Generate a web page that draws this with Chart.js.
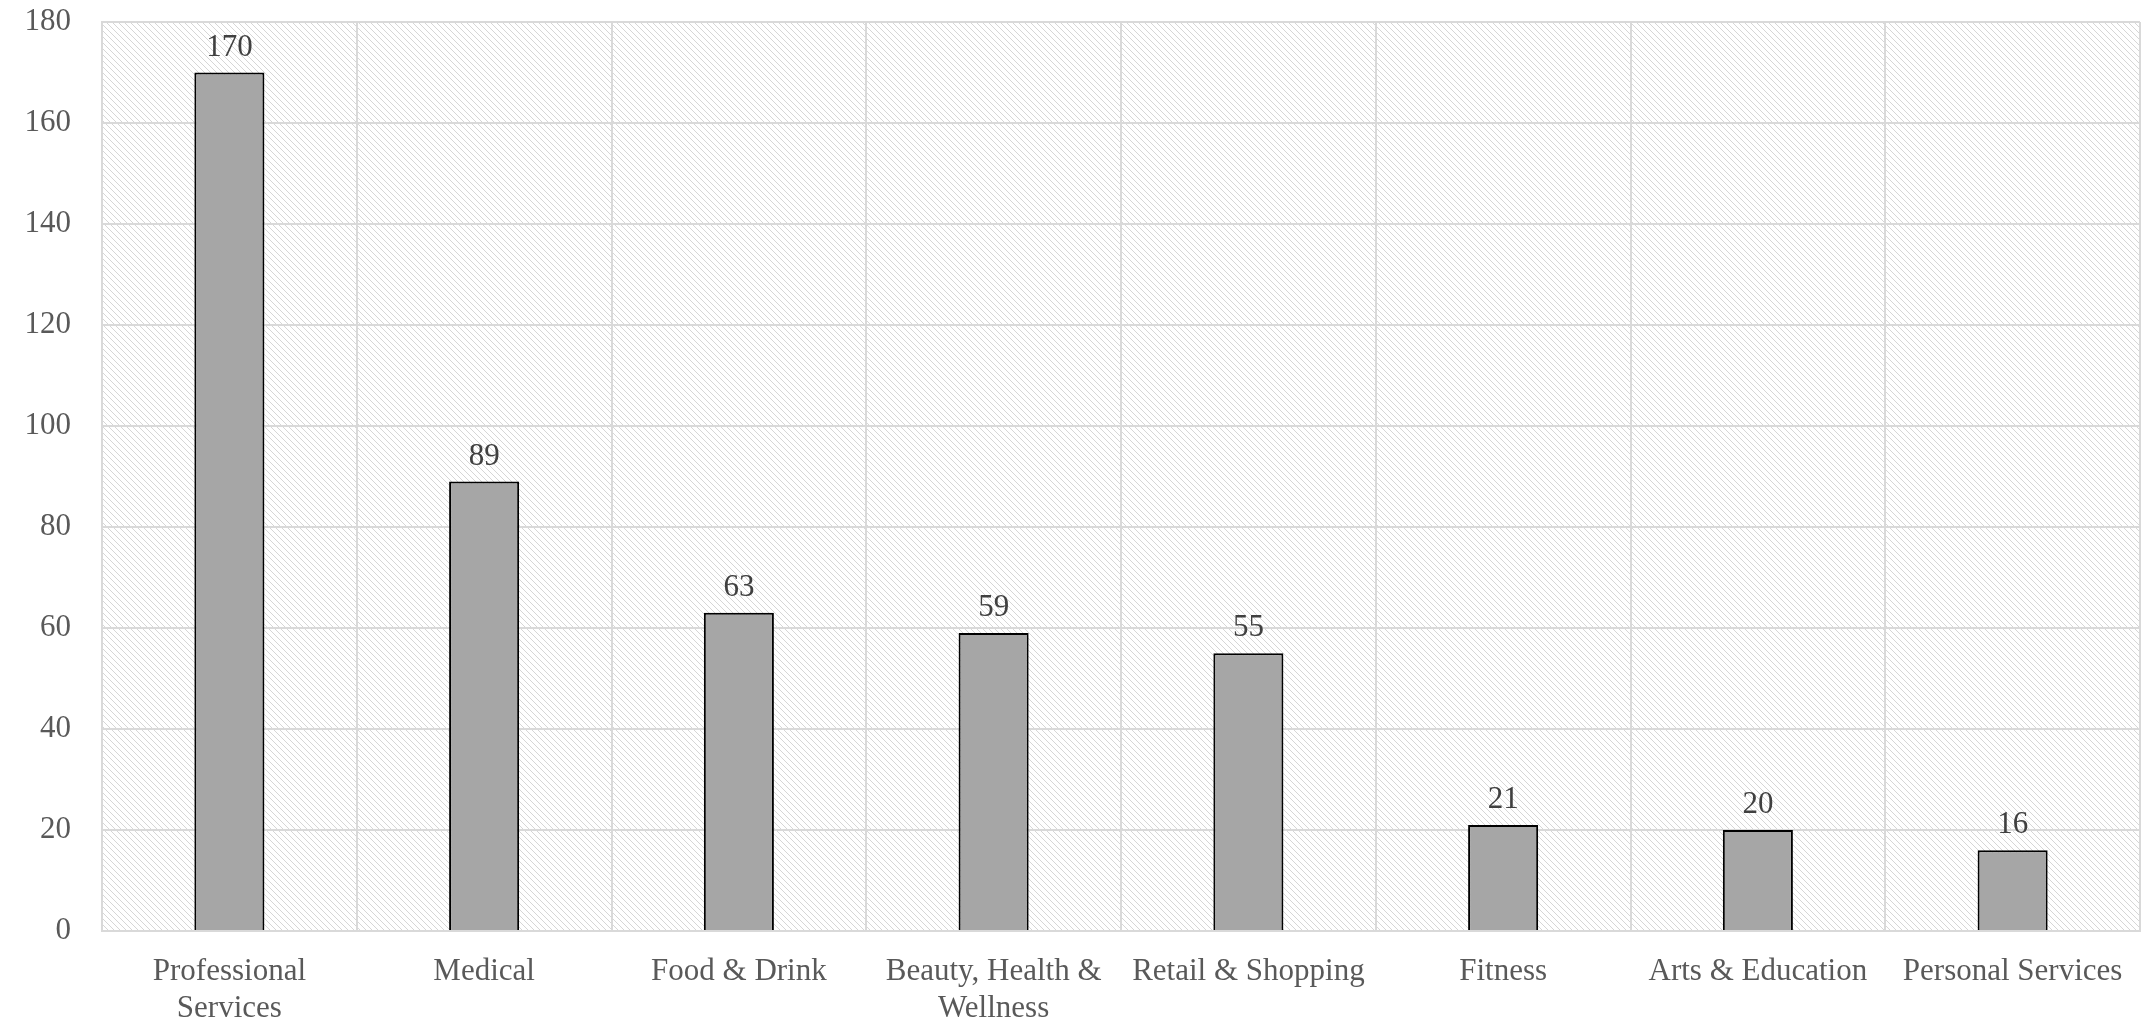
<!DOCTYPE html>
<html>
<head>
<meta charset="utf-8">
<script src="https://cdn.jsdelivr.net/npm/chart.js@4"></script>
<style>
  html, body { margin: 0; padding: 0; background: #fff; }
  #wrap { width: 2152px; height: 1019px; }
</style>
</head>
<body>
<div id="wrap"><canvas id="businessChart" width="2152" height="1019"></canvas></div>
<script>
// categories and counts
const categories = [
    ['Professional', 'Services'],
    'Medical',
    'Food & Drink',
    ['Beauty, Health &', 'Wellness'],
    'Retail & Shopping',
    'Fitness',
    'Arts & Education',
    'Personal Services'
];
const counts = [170, 89, 63, 59, 55, 21, 20, 16];
const yTicks = [0, 20, 40, 60, 80, 100, 120, 140, 160, 180];

const FONT = '"Liberation Serif", "Times New Roman", serif';

// diagonal hatch behind the plot area
function makeHatch() {
    const n = 6;
    const c = document.createElement('canvas');
    c.width = n; c.height = n;
    const g = c.getContext('2d');
    g.fillStyle = '#ffffff';
    g.fillRect(0, 0, n, n);
    g.fillStyle = '#d6d6d6';
    for (let i = 0; i < n; i++) {
        g.fillRect(i, i, 1, 1);
    }
    return c;
}

const hatchPlugin = {
    id: 'hatch',
    beforeDraw(chart) {
        const { ctx, chartArea: a } = chart;
        ctx.save();
        ctx.fillStyle = ctx.createPattern(makeHatch(), 'repeat');
        ctx.fillRect(a.left, a.top, a.right - a.left, a.bottom - a.top);
        ctx.restore();
    }
};

// value labels above each bar
const valueLabels = {
    id: 'valueLabels',
    afterDatasetsDraw(chart) {
        const ctx = chart.ctx;
        const meta = chart.getDatasetMeta(0);
        ctx.save();
        ctx.font = '31px ' + FONT;
        ctx.fillStyle = '#404040';
        ctx.textAlign = 'center';
        ctx.textBaseline = 'alphabetic';
        meta.data.forEach((bar, i) => {
            ctx.fillText(String(counts[i]), bar.x, bar.y - 17);
        });
        ctx.restore();
    }
};

const ctx = document.getElementById('businessChart').getContext('2d');
const businessChart = new Chart(ctx, {
    type: 'bar',
    data: {
        labels: categories,
        datasets: [{
            data: counts,
            backgroundColor: '#a6a6a6',
            borderColor: '#000000',
            borderWidth: 2,
            borderSkipped: 'bottom',
            categoryPercentage: 1,
            barPercentage: 0.275
        }]
    },
    options: {
        responsive: false,
        animation: false,
        devicePixelRatio: 1,
        layout: { padding: { top: 22, right: 12, left: 0, bottom: 0 } },
        plugins: {
            legend: { display: false },
            tooltip: { enabled: false }
        },
        scales: {
            x: {
                grid: { offset: true, color: '#d9d9d9', lineWidth: 2, drawTicks: false },
                border: { color: '#d9d9d9', width: 2 },
                ticks: {
                    color: '#595959',
                    font: { family: FONT, size: 31 },
                    padding: 22,
                    maxRotation: 0,
                    autoSkip: false
                },
                afterFit(scale) {
                    scale.height = 88;
                    scale.paddingLeft = 0;
                    scale.paddingRight = 0;
                }
            },
            y: {
                min: 0,
                max: 180,
                afterBuildTicks(scale) { scale.ticks = yTicks.map(v => ({ value: v })); },
                grid: { color: '#d9d9d9', lineWidth: 2, drawTicks: false },
                border: { color: '#d9d9d9', width: 2 },
                ticks: {
                    color: '#595959',
                    font: { family: FONT, size: 31 },
                    padding: 31
                },
                afterFit(scale) {
                    scale.width = 102;
                    scale.paddingTop = 0;
                    scale.paddingBottom = 0;
                }
            }
        }
    },
    plugins: [hatchPlugin, valueLabels]
});
</script>
</body>
</html>
